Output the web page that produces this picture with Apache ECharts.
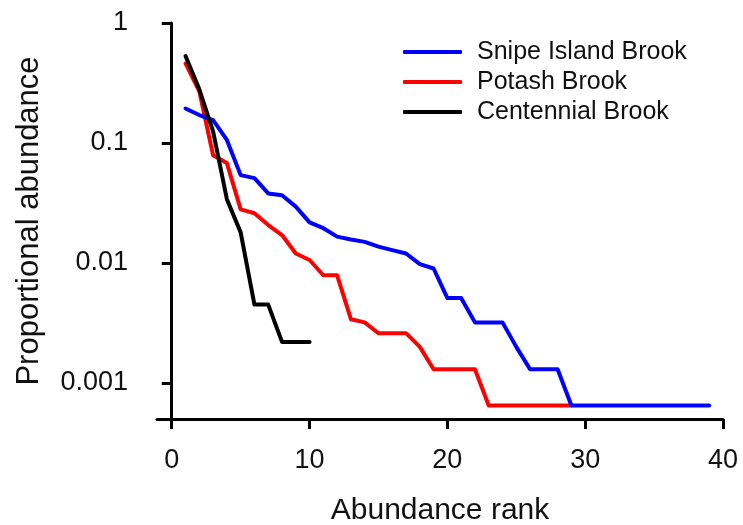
<!DOCTYPE html>
<html>
<head>
<meta charset="utf-8">
<script src="https://cdn.jsdelivr.net/npm/echarts@6/dist/echarts.min.js"></script>
<style>
  html, body { margin: 0; padding: 0; background: #fff; }
  #chart { width: 743px; height: 525px; }
</style>
</head>
<body>
<div id="chart"></div>
<script>
// abundance ranks are 1..n for each brook
const snipeIsland = [
  0.194, 0.171, 0.155, 0.106, 0.054, 0.051, 0.038, 0.0367, 0.0295, 0.0218,
  0.0195, 0.0166, 0.0157, 0.0150, 0.0137, 0.0128, 0.0120, 0.0098, 0.0090, 0.0051,
  0.0051, 0.0032, 0.0032, 0.0032, 0.0020, 0.0013, 0.0013, 0.0013, 0.00065, 0.00065,
  0.00065, 0.00065, 0.00065, 0.00065, 0.00065, 0.00065, 0.00065, 0.00065, 0.00065
];
const potash = [
  0.46, 0.27, 0.079, 0.068, 0.028, 0.026, 0.0207, 0.0171, 0.0120, 0.0106,
  0.0079, 0.0079, 0.0034, 0.0032, 0.0026, 0.0026, 0.0026, 0.0020, 0.0013, 0.0013,
  0.0013, 0.0013, 0.00065, 0.00065, 0.00065, 0.00065, 0.00065, 0.00065, 0.00065
];
const centennial = [0.53, 0.28, 0.125, 0.034, 0.018, 0.0045, 0.0045, 0.0022, 0.0022, 0.0022];

const xTicks = [0, 10, 20, 30, 40];
const yTicks = [0.001, 0.01, 0.1, 1];
const yTickLabels = ['0.001', '0.01', '0.1', '1'];

const FONT = '"Liberation Sans", Arial, sans-serif';

function toPoints(arr) {
  return arr.map((v, i) => [i + 1, v]);
}

function lineSeries(name, data, color, z) {
  return {
    name: name,
    type: 'line',
    data: toPoints(data),
    symbol: 'none',
    z: z,
    lineStyle: { color: color, width: 4, cap: 'round', join: 'round' },
    itemStyle: { color: color }
  };
}

const chart = echarts.init(document.getElementById('chart'));
chart.setOption({
  animation: false,
  backgroundColor: '#fff',
  grid: { left: 157, right: 20, top: 23, bottom: 106, outerBoundsMode: 'none' },
  legend: {
    orient: 'vertical',
    left: 403,
    top: 37,
    padding: 0,
    itemGap: 0,
    itemWidth: 59,
    itemHeight: 4,
    icon: 'roundRect',
    data: ['Snipe Island Brook', 'Potash Brook', 'Centennial Brook'],
    textStyle: { fontFamily: FONT, fontSize: 25, color: '#111', lineHeight: 30, padding: [0, 0, 0, 10] }
  },
  xAxis: {
    type: 'value',
    min: -1.07,
    max: 40,
    name: 'Abundance rank',
    nameLocation: 'middle',
    nameGap: 77,
    nameTextStyle: { fontFamily: FONT, fontSize: 30, color: '#111' },
    axisLine: { lineStyle: { color: '#000', width: 3 } },
    axisTick: { customValues: xTicks, length: 10, lineStyle: { color: '#000', width: 3 } },
    axisLabel: { customValues: xTicks, margin: 28, fontFamily: FONT, fontSize: 27, color: '#111' },
    splitLine: { show: false }
  },
  yAxis: {
    type: 'log',
    logBase: 10,
    min: Math.pow(10, -3.3),
    max: 1,
    name: 'Proportional abundance',
    nameLocation: 'middle',
    nameGap: 112,
    nameTextStyle: { fontFamily: FONT, fontSize: 31, color: '#111' },
    axisLine: { lineStyle: { color: '#000', width: 3 } },
    axisTick: { customValues: yTicks, length: 10, lineStyle: { color: '#000', width: 3 } },
    axisLabel: {
      customValues: yTicks,
      margin: 29,
      fontFamily: FONT,
      fontSize: 27,
      color: '#111',
      formatter: function (v) {
        let best = 0;
        yTicks.forEach((t, i) => {
          if (Math.abs(Math.log10(t) - Math.log10(v)) < Math.abs(Math.log10(yTicks[best]) - Math.log10(v))) best = i;
        });
        return yTickLabels[best];
      }
    },
    splitLine: { show: false }
  },
  series: [
    lineSeries('Potash Brook', potash, '#ff0000', 2),
    lineSeries('Snipe Island Brook', snipeIsland, '#0000ff', 3),
    lineSeries('Centennial Brook', centennial, '#000000', 4)
  ]
});
</script>
</body>
</html>
